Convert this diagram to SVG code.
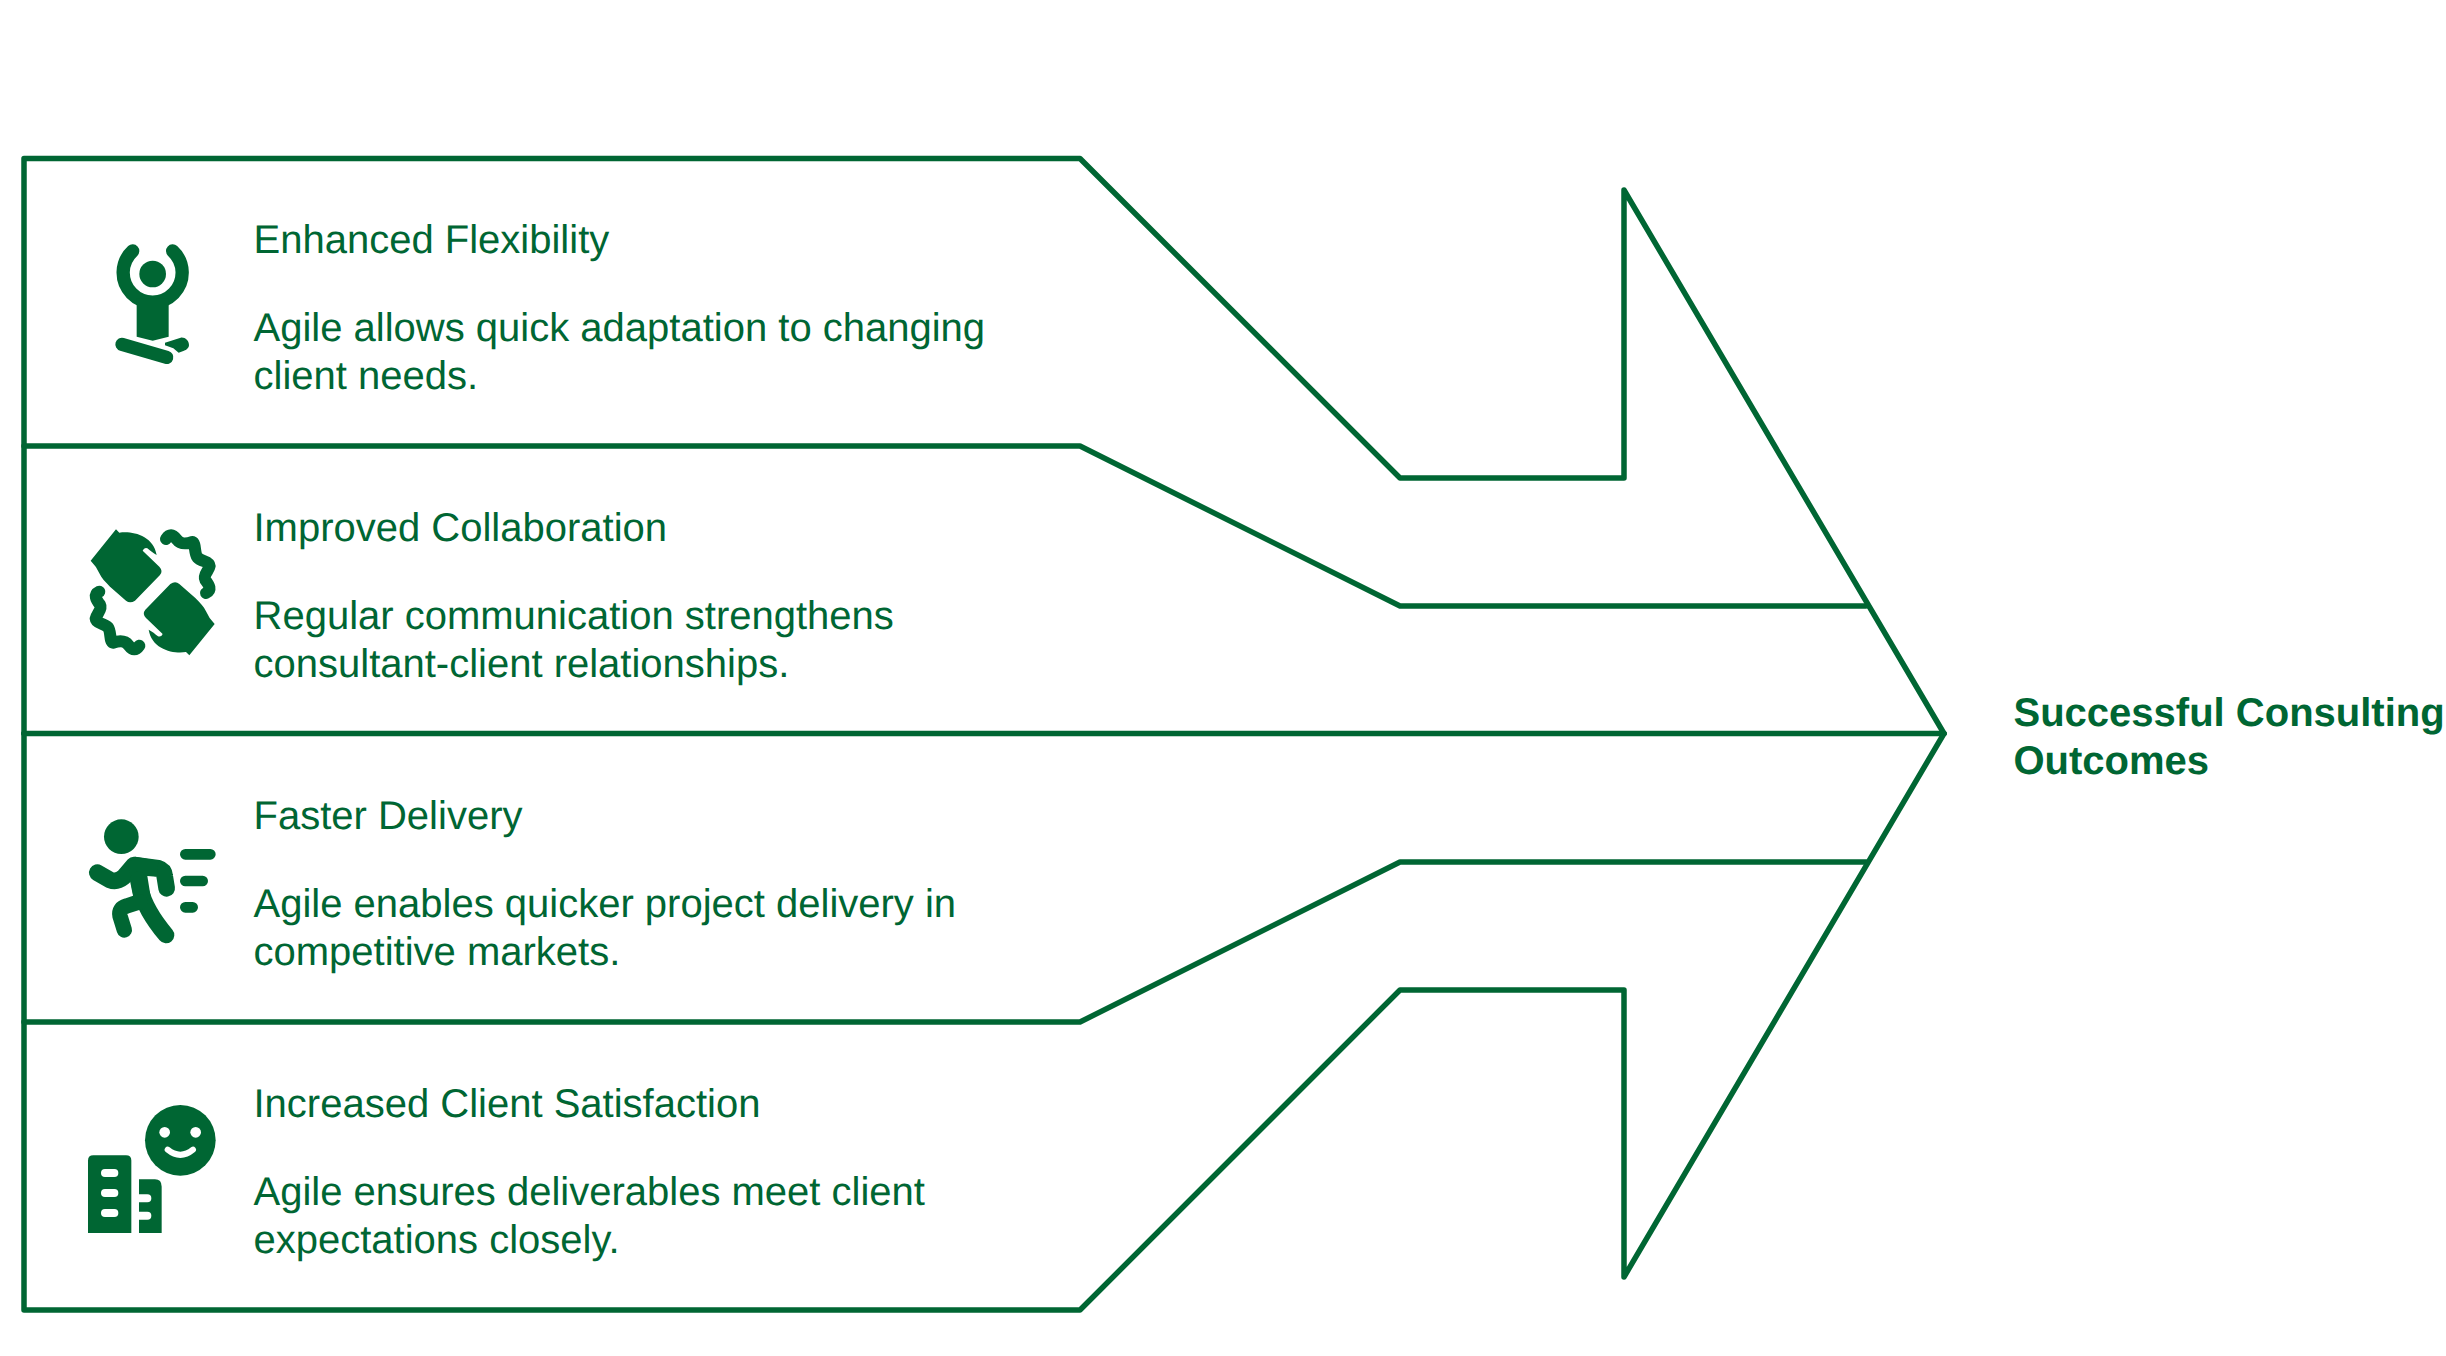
<svg xmlns="http://www.w3.org/2000/svg" width="2446" height="1356" viewBox="0 0 2446 1356">
<style>
.o{fill:none;stroke:#006633;stroke-width:5.5;stroke-linejoin:round;stroke-linecap:round}
.t{font-family:"Liberation Sans",Arial,sans-serif;font-size:40px;fill:#006633;text-rendering:geometricPrecision}
.b{font-weight:700}
.f{fill:#006633}
.s{fill:none;stroke:#006633;stroke-linecap:round;stroke-linejoin:round}
.w{fill:#fff}
</style>
<rect width="2446" height="1356" fill="#fff"/>
<g id="connectors">
<path class="o" d="M24 733.500V158.500H1080L1400 478H1624V190L1944 733.500"/>
<path class="o" d="M24 446H1080L1400 606H1866"/>
<path class="o" d="M24 733.500H1944"/>
<path class="o" d="M24 1022H1080L1400 862H1866"/>
<path class="o" d="M24 733.500V1310H1080L1400 990H1624V1277L1944 733.500"/>
</g>
<g id="node-flexibility">
<g transform="translate(60 220) scale(.33333)">
<circle class="f" cx="278" cy="162" r="40"/>
<path class="s" stroke-width="40" d="M218 93A88.500 88.500 0 1 0 338 93"/>
<path class="f" d="M230 235H326V350L278 362L230 350Z"/>
<path class="s" stroke-width="40" d="M186 373L320 412"/>
<path class="f" d="M315 368L362 353C375 351 387 362 387 375C387 383 380 390 372 392L356 398L340 385L315 376Z"/>
</g>
<text class="t" x="253.500" y="253">Enhanced Flexibility</text>
<text class="t" x="253.500" y="341">Agile allows quick adaptation to changing</text>
<text class="t" x="253.500" y="389">client needs.</text>
</g>
<g id="node-collaboration">
<g transform="translate(60 510) scale(.33333)">
<g id="hand">
<path class="f" d="M168 58L178 68C215 62 280 75 290 135C280 130 270 122 262 115Q252 112 248 122L298 170Q310 183 300 195L225 272Q210 282 198 272L150 230C135 215 125 205 118 190Q110 170 92 152Z"/>
<path class="s" stroke-width="36" d="M318 87C328 72 338 72 350 88C362 104 378 102 397 96C408 100 402 128 412 142C425 156 448 152 449 168C447 182 428 195 436 210C448 226 456 240 438 249"/>
</g>
<use href="#hand" transform="rotate(180 278 247)"/>
</g>
<text class="t" x="253.500" y="541">Improved Collaboration</text>
<text class="t" x="253.500" y="629">Regular communication strengthens</text>
<text class="t" x="253.500" y="677">consultant-client relationships.</text>
</g>
<g id="node-delivery">
<g transform="translate(60 800) scale(.33333)">
<circle class="f" cx="184" cy="110" r="52"/>
<path class="s" stroke-width="32" d="M376 163H451M376 243H428M376 322H398"/>
<path class="s" stroke-width="50" d="M112 218L150 240Q170 248 190 232L222 195L295 205Q312 210 314 228L320 265"/>
<path class="f" d="M205 190L225 170L295 182L290 230L262 228L272 290L220 295Z"/>
<path class="s" stroke-width="50" d="M235 240L240 265Q255 330 318 405"/>
<path class="s" stroke-width="46" d="M240 305L200 318Q175 325 180 348L193 390"/>
</g>
<text class="t" x="253.500" y="829">Faster Delivery</text>
<text class="t" x="253.500" y="917">Agile enables quicker project delivery in</text>
<text class="t" x="253.500" y="965">competitive markets.</text>
</g>
<g id="node-satisfaction">
<g transform="translate(60 1090) scale(.33333)">
<circle class="f" cx="361" cy="151" r="106"/>
<circle class="w" cx="314" cy="127" r="16"/>
<circle class="w" cx="407" cy="127" r="16"/>
<path d="M323 179Q361 210 399 179" fill="none" stroke="#fff" stroke-width="18" stroke-linecap="round"/>
<path class="f" d="M84 429V212Q84 196 100 196H198Q214 196 214 212V429Z"/>
<path class="f" d="M237 429V268H285Q305 268 305 290V429H237Z"/>
<path d="M135 249H163M135 309H163M135 369H163" fill="none" stroke="#fff" stroke-width="24" stroke-linecap="round"/>
<path d="M237 325H262M237 377H262" fill="none" stroke="#fff" stroke-width="24" stroke-linecap="round"/>
</g>
<text class="t" x="253.500" y="1117">Increased Client Satisfaction</text>
<text class="t" x="253.500" y="1205">Agile ensures deliverables meet client</text>
<text class="t" x="253.500" y="1253">expectations closely.</text>
</g>
<g id="node-outcome">
<text class="t b" x="2013.500" y="726">Successful Consulting</text>
<text class="t b" x="2013.500" y="774">Outcomes</text>
</g>
</svg>
